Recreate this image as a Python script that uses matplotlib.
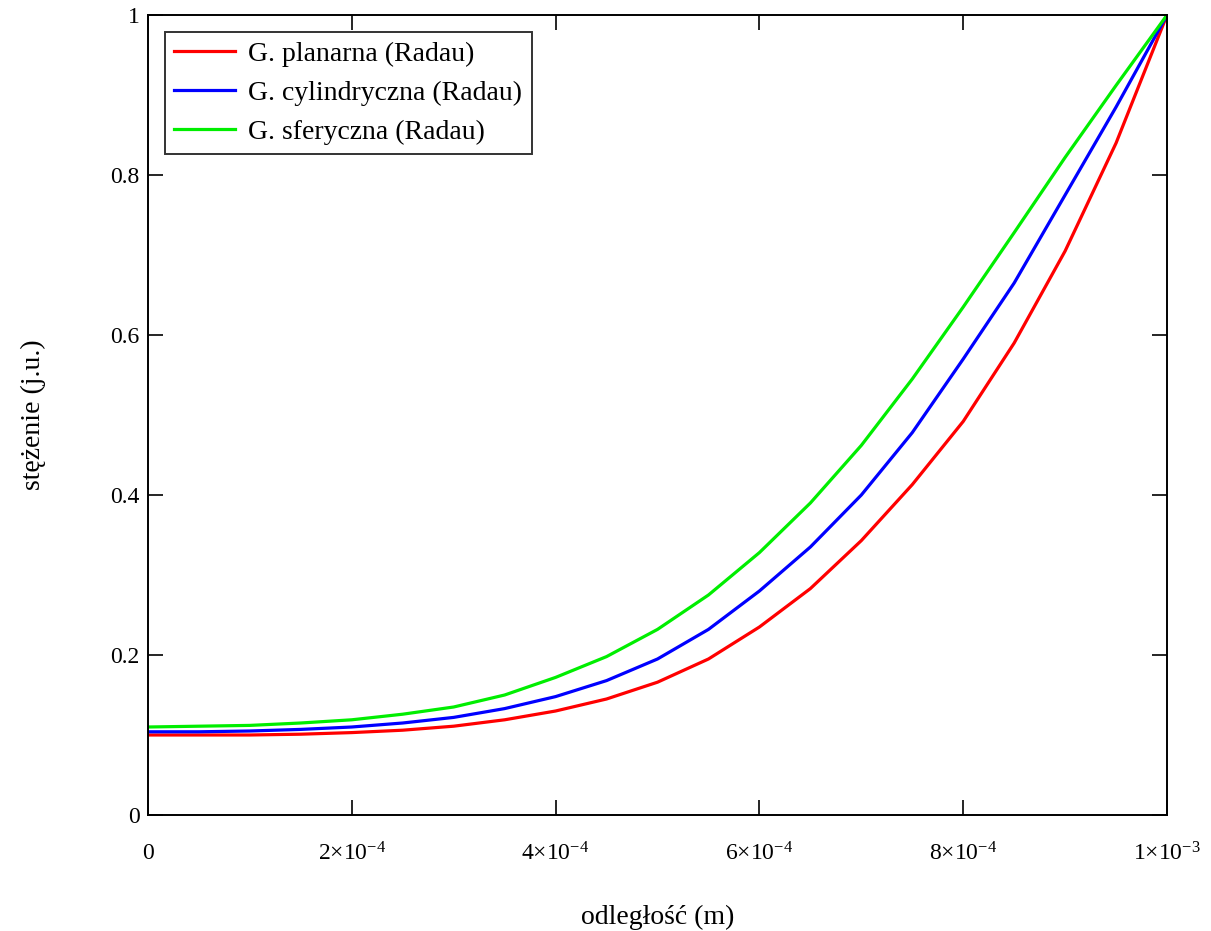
import matplotlib.pyplot as plt

plt.rcParams['font.family'] = ['Liberation Serif', 'DejaVu Serif']
plt.rcParams['mathtext.fontset'] = 'custom'
plt.rcParams['mathtext.rm'] = 'Liberation Serif'
plt.rcParams['mathtext.default'] = 'rm'

# odległość (m)
x = [0.0, 0.5e-4, 1.0e-4, 1.5e-4, 2.0e-4, 2.5e-4, 3.0e-4, 3.5e-4, 4.0e-4, 4.5e-4,
     5.0e-4, 5.5e-4, 6.0e-4, 6.5e-4, 7.0e-4, 7.5e-4, 8.0e-4, 8.5e-4, 9.0e-4, 9.5e-4, 1.0e-3]

# stężenie - geometria planarna
y_planarna = [0.100, 0.100, 0.100, 0.101, 0.103, 0.106, 0.111, 0.119, 0.130, 0.145,
              0.166, 0.195, 0.235, 0.283, 0.343, 0.413, 0.492, 0.590, 0.705, 0.840, 1.0]
# geometria cylindryczna
y_cylindryczna = [0.104, 0.104, 0.105, 0.107, 0.110, 0.115, 0.122, 0.133, 0.148, 0.168,
                  0.195, 0.232, 0.280, 0.335, 0.400, 0.478, 0.570, 0.665, 0.775, 0.885, 1.0]
# geometria sferyczna
y_sferyczna = [0.110, 0.111, 0.112, 0.115, 0.119, 0.126, 0.135, 0.150, 0.172, 0.198,
               0.232, 0.275, 0.328, 0.390, 0.462, 0.545, 0.635, 0.728, 0.822, 0.912, 1.0]

labels = ['G. planarna (Radau)', 'G. cylindryczna (Radau)', 'G. sferyczna (Radau)']

x_ticks = [0, 2e-4, 4e-4, 6e-4, 8e-4, 1e-3]
x_tick_labels = ['0', r'2×10$^{-4}$', r'4×10$^{-4}$', r'6×10$^{-4}$', r'8×10$^{-4}$', r'1×10$^{-3}$']
y_ticks = [0, 0.2, 0.4, 0.6, 0.8, 1.0]
y_tick_labels = ['0', '0.2', '0.4', '0.6', '0.8', '1']

fig = plt.figure(figsize=(12.11, 9.31), dpi=100)
ax = fig.add_axes([0.1222, 0.1246, 0.8415, 0.8593])

ax.plot(x, y_planarna, color='#ff0000', lw=2.3, label=labels[0])
ax.plot(x, y_cylindryczna, color='#0000ff', lw=2.3, label=labels[1])
ax.plot(x, y_sferyczna, color='#00ee00', lw=2.3, label=labels[2])

ax.set_xlim(0, 1e-3)
ax.set_ylim(0, 1)
ax.set_xticks(x_ticks)
ax.set_xticklabels(x_tick_labels)
ax.set_yticks(y_ticks)
ax.set_yticklabels(y_tick_labels)
ax.tick_params(direction='in', length=11, width=1.2, top=True, right=True,
               labelsize=17, pad=6)
ax.tick_params(axis='x', pad=20)

for s in ax.spines.values():
    s.set_linewidth(1.4)

ax.set_xlabel('odległość (m)', fontsize=20, labelpad=28)
ax.set_ylabel('stężenie (j.u.)', fontsize=20, labelpad=46)

leg = ax.legend(loc='upper left', fontsize=20, frameon=True, fancybox=False,
                borderaxespad=0.6, handlelength=2.2, labelspacing=0.5,
                borderpad=0.35, handletextpad=0.45, handleheight=0.6)
leg.get_frame().set_edgecolor('black')
leg.get_frame().set_linewidth(1.4)

fig.savefig('out.png', dpi=100)
